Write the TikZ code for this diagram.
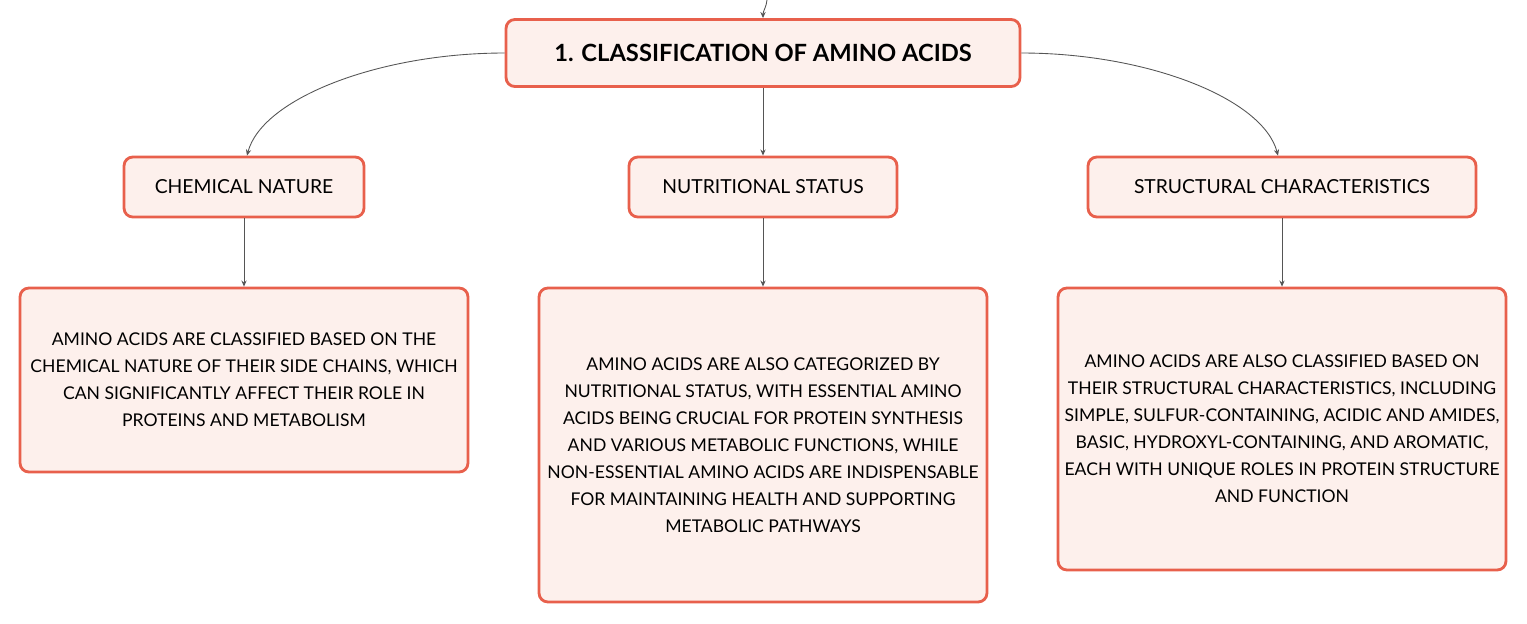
\documentclass[tikz,border=0pt]{standalone}
\usepackage{fontspec}
\setmainfont{Lato}
\usetikzlibrary{arrows.meta}
\definecolor{boxline}{HTML}{E8604C}
\definecolor{boxfill}{HTML}{FDF0EC}
\definecolor{linkgray}{HTML}{555555}
\begin{document}
\begin{tikzpicture}[x=0.02cm,y=-0.02cm,
    box/.style={draw=boxline,fill=boxfill,line width=1.6pt,rounded corners=5pt,
      align=center,inner sep=0pt},
    head/.style={box,minimum height=1.2cm,font=\fontsize{11}{13}\selectfont},
    desc/.style={box,minimum width=8.96cm,font=\fontsize{10}{15.4}\selectfont},
    link/.style={draw=linkgray,line width=0.5pt,-{Stealth[length=3.5pt,width=3pt]}}]
  \useasboundingbox (0,0) rectangle (1527,623);
  % main topic
  \node[box,minimum width=10.28cm,minimum height=1.34cm,
    font=\fontsize{13.5}{16}\selectfont\bfseries] (title) at (763,53)
    {1. CLASSIFICATION OF AMINO ACIDS};
  \coordinate (top) at (767,0);
  % sub topics
  \node[head,minimum width=4.8cm] (chem) at (244,187) {CHEMICAL NATURE};
  \node[head,minimum width=5.36cm] (nutr) at (763,187) {NUTRITIONAL STATUS};
  \node[head,minimum width=7.76cm] (struct) at (1282,187) {STRUCTURAL CHARACTERISTICS};
  % details
  \node[desc,minimum height=3.68cm] (chemtext) at (244,380)
    {AMINO ACIDS ARE CLASSIFIED BASED ON THE\\
     CHEMICAL NATURE OF THEIR SIDE CHAINS, WHICH\\
     CAN SIGNIFICANTLY AFFECT THEIR ROLE IN\\
     PROTEINS AND METABOLISM};
  \node[desc,minimum height=6.28cm] (nutrtext) at (763,445)
    {AMINO ACIDS ARE ALSO CATEGORIZED BY\\
     NUTRITIONAL STATUS, WITH ESSENTIAL AMINO\\
     ACIDS BEING CRUCIAL FOR PROTEIN SYNTHESIS\\
     AND VARIOUS METABOLIC FUNCTIONS, WHILE\\
     NON-ESSENTIAL AMINO ACIDS ARE INDISPENSABLE\\
     FOR MAINTAINING HEALTH AND SUPPORTING\\
     METABOLIC PATHWAYS};
  \node[desc,minimum height=5.64cm] (structtext) at (1282,429)
    {AMINO ACIDS ARE ALSO CLASSIFIED BASED ON\\
     THEIR STRUCTURAL CHARACTERISTICS, INCLUDING\\
     SIMPLE, SULFUR-CONTAINING, ACIDIC AND AMIDES,\\
     BASIC, HYDROXYL-CONTAINING, AND AROMATIC,\\
     EACH WITH UNIQUE ROLES IN PROTEIN STRUCTURE\\
     AND FUNCTION};
  % connectors
  \draw[link] (top) to[out=-95,in=90] (title.north);
  \draw[link] (title.west) .. controls +(-126,0) and +(15,-57)
    .. ([xshift=3*0.02cm]chem.north);
  \draw[link] (title.east) .. controls +(126,0) and +(-15,-57)
    .. ([xshift=-4*0.02cm]struct.north);
  \foreach \a / \b in {title/nutr, chem/chemtext, nutr/nutrtext, struct/structtext}{
    \draw[link] (\a) -- (\b);
  }
\end{tikzpicture}
\end{document}
